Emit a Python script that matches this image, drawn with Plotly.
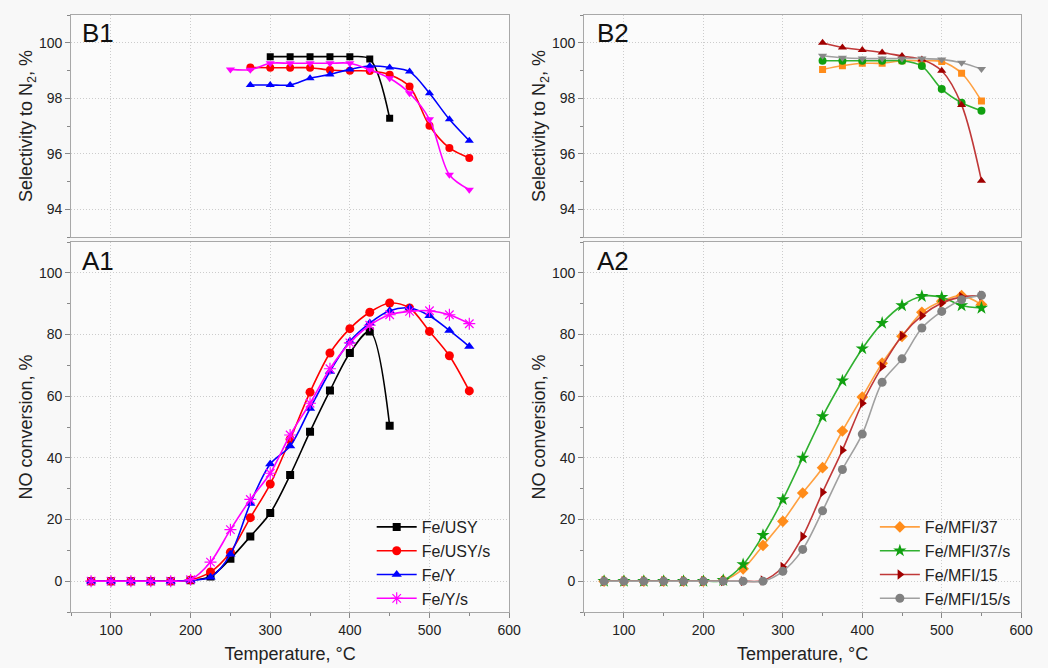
import plotly.graph_objects as go

# ---------------- data ----------------
T_A = [75, 100, 125, 150, 175, 200, 225, 250, 275, 300, 325, 350, 375, 400, 425, 450, 475, 500, 525, 550]

# A1: NO conversion, %
usy_T = T_A[:16]
usy_conv = [0, 0, 0, 0, 0, 0.3, 1.5, 7.3, 14.5, 22.1, 34.4, 48.5, 61.8, 74.0, 81.0, 50.4]
usys_conv = [0, 0, 0, 0, 0, 0.4, 3.0, 9.4, 20.6, 31.5, 46.0, 61.3, 74.0, 81.9, 87.2, 90.2, 88.6, 81.0, 73.1, 61.7]
y_conv = [0, 0, 0, 0, 0, 0.3, 1.3, 8.7, 25.2, 38.0, 43.8, 56.0, 68.0, 77.8, 83.7, 87.7, 88.6, 86.1, 81.3, 76.1]
ys_conv = [0, 0, 0, 0, 0, 0.5, 6.2, 16.7, 26.5, 35.0, 47.4, 57.7, 68.9, 77.3, 83.0, 86.4, 87.5, 87.7, 86.4, 83.5]

# A2: NO conversion, %
mfi37_conv = [0, 0, 0, 0, 0, 0, 0.3, 4.0, 11.6, 19.4, 28.6, 36.8, 48.7, 59.7, 70.7, 79.4, 87.2, 90.8, 92.6, 89.7]
mfi37s_conv = [0, 0, 0, 0, 0, 0, 0.3, 5.4, 14.9, 26.5, 40.0, 53.4, 65.0, 75.4, 83.7, 89.4, 92.4, 92.1, 89.4, 88.6]
mfi15_conv = [0, 0, 0, 0, 0, 0, 0, 0, 0.2, 4.6, 14.5, 28.8, 42.5, 57.7, 69.6, 79.6, 86.1, 90.2, 92.2, 92.6]
mfi15s_conv = [0, 0, 0, 0, 0, 0, 0, 0, 0, 3.2, 10.3, 22.8, 36.2, 47.7, 64.5, 72.1, 82.1, 87.5, 91.3, 92.7]

# B1: selectivity to N2, %
usy_sel_T = [300, 325, 350, 375, 400, 425, 450]
usy_sel = [99.5, 99.5, 99.5, 99.5, 99.5, 99.41, 97.28]
usys_sel_T = [275, 300, 325, 350, 375, 400, 425, 450, 475, 500, 525, 550]
usys_sel = [99.11, 99.1, 99.1, 99.1, 99.02, 98.99, 98.98, 98.85, 98.42, 97.01, 96.21, 95.85]
y_sel_T = [275, 300, 325, 350, 375, 400, 425, 450, 475, 500, 525, 550]
y_sel = [98.48, 98.48, 98.48, 98.72, 98.86, 99.04, 99.16, 99.11, 98.96, 98.18, 97.24, 96.47]
ys_sel_T = [250, 275, 300, 325, 350, 375, 400, 425, 450, 475, 500, 525, 550]
ys_sel = [99.04, 99.03, 99.26, 99.26, 99.26, 99.26, 99.26, 99.03, 98.72, 98.18, 97.24, 95.24, 94.7]

# B2: selectivity to N2, %
T_B2 = [350, 375, 400, 425, 450, 475, 500, 525, 550]
mfi37_sel = [99.04, 99.17, 99.26, 99.26, 99.35, 99.35, 99.32, 98.9, 97.9]
mfi37s_sel = [99.35, 99.35, 99.35, 99.35, 99.35, 99.16, 98.33, 97.84, 97.55]
mfi15_sel = [100.0, 99.83, 99.74, 99.65, 99.52, 99.4, 98.99, 97.76, 95.03]
mfi15s_sel = [99.53, 99.46, 99.43, 99.43, 99.43, 99.43, 99.4, 99.28, 99.05]

x_ticks = [100, 200, 300, 400, 500, 600]

# ---------------- styles ----------------
FONT = "Liberation Sans, Arial, sans-serif"
W, H = 1048, 668

fig = go.Figure()

def add(x, y, name, color, symbol, size, xa, ya, legend=None, show=False, lcolor=None, mline=0):
    fig.add_trace(go.Scatter(
        x=x, y=y, name=name, mode="lines+markers",
        line=dict(color=lcolor or color, width=1.6, shape="spline", smoothing=0.9),
        marker=dict(symbol=symbol, size=size, color=color,
                    line=dict(color=color, width=mline)),
        xaxis=xa, yaxis=ya, showlegend=show, legend=legend or "legend"))

# B1
add(usy_sel_T, usy_sel, "Fe/USY", "#000000", "square", 7, "x", "y")
add(usys_sel_T, usys_sel, "Fe/USY/s", "#ff0000", "circle", 8, "x", "y")
add(y_sel_T, y_sel, "Fe/Y", "#0000ff", "triangle-up", 8, "x", "y")
add(ys_sel_T, ys_sel, "Fe/Y/s", "#ff00ff", "triangle-down", 8, "x", "y")

# A1
add(usy_T, usy_conv, "Fe/USY", "#000000", "square", 8, "x2", "y2", "legend", True)
add(T_A, usys_conv, "Fe/USY/s", "#ff0000", "circle", 9, "x2", "y2", "legend", True)
add(T_A, y_conv, "Fe/Y", "#0000ff", "triangle-up", 9, "x2", "y2", "legend", True)
add(T_A, ys_conv, "Fe/Y/s", "#ff00ff", "asterisk-open", 10, "x2", "y2", "legend", True, mline=1.2)

# B2
add(T_B2, mfi37_sel, "Fe/MFI/37", "#ff8c1a", "square", 7, "x3", "y3", lcolor="#ffa040")
add(T_B2, mfi37s_sel, "Fe/MFI/37/s", "#10a010", "circle", 8, "x3", "y3", lcolor="#30b030")
add(T_B2, mfi15_sel, "Fe/MFI/15", "#a00000", "triangle-up", 8, "x3", "y3", lcolor="#c03838")
add(T_B2, mfi15s_sel, "Fe/MFI/15/s", "#888888", "triangle-down", 8, "x3", "y3", lcolor="#a0a0a0")

# A2
add(T_A, mfi37_conv, "Fe/MFI/37", "#ff8c1a", "diamond", 9, "x4", "y4", "legend2", True, lcolor="#ffa040")
add(T_A, mfi37s_conv, "Fe/MFI/37/s", "#10a010", "star", 10, "x4", "y4", "legend2", True, lcolor="#30b030")
add(T_A, mfi15_conv, "Fe/MFI/15", "#a00000", "triangle-right", 9, "x4", "y4", "legend2", True, lcolor="#c03838")
add(T_A, mfi15s_conv, "Fe/MFI/15/s", "#808080", "circle", 9, "x4", "y4", "legend2", True, lcolor="#a0a0a0")

# ---------------- axes ----------------
xl = [72 / W, 515 / W]
xr = [591 / W, 1033 / W]
yb = [1 - 237 / H, 1 - 15 / H]
ya = [1 - 612 / H, 1 - 242 / H]

grid = dict(showgrid=True, gridcolor="#cccccc", griddash="1px,2px", gridwidth=1,
            showline=True, linecolor="#a8a8a8", linewidth=1.2, mirror=True, zeroline=False,
            tickfont=dict(family=FONT, size=14, color="#222222"))

def xaxis(domain, anchor, bottom):
    d = dict(grid, domain=domain, anchor=anchor, range=[50, 600], tickvals=x_ticks)
    if bottom:
        d.update(ticks="outside", ticklen=5, tickcolor="#888888", showticklabels=True,
                 minor=dict(dtick=50, tick0=0, ticks="outside", ticklen=3, tickcolor="#888888", showgrid=False),
                 title=dict(text="Temperature, °C", font=dict(family=FONT, size=18, color="#222222"), standoff=10))
    else:
        d.update(ticks="", showticklabels=False)
    return d

def yaxis(domain, anchor, rng, dtick, title, standoff):
    return dict(grid, domain=domain, anchor=anchor, range=rng, dtick=dtick, tick0=0,
                ticks="outside", ticklen=5, tickcolor="#888888",
                minor=dict(dtick=dtick / 2, tick0=0, ticks="outside", ticklen=3, tickcolor="#888888", showgrid=False),
                title=dict(text=title, font=dict(family=FONT, size=18, color="#222222"), standoff=standoff))

sel_title = "Selectivity to N<sub>2</sub>, %"
conv_title = "NO conversion, %"

fig.update_layout(
    width=W, height=H, autosize=False,
    margin=dict(l=0, r=0, t=0, b=0),
    paper_bgcolor="#f8f8f8", plot_bgcolor="#fbfbfb",
    font=dict(family=FONT, color="#222222"),
    xaxis=xaxis(xl, "y", False),
    yaxis=yaxis(yb, "x", [93, 101], 2, sel_title, 1),
    xaxis2=xaxis(xl, "y2", True),
    yaxis2=yaxis(ya, "x2", [-10, 110], 20, conv_title, 1),
    xaxis3=xaxis(xr, "y3", False),
    yaxis3=yaxis(yb, "x3", [93, 101], 2, sel_title, 1),
    xaxis4=xaxis(xr, "y4", True),
    yaxis4=yaxis(ya, "x4", [-10, 110], 20, conv_title, 1),
    legend=dict(x=376 / W, y=1 - 510 / H, xanchor="left", yanchor="top",
                bgcolor="rgba(0,0,0,0)", font=dict(family=FONT, size=16, color="#222222"),
                tracegroupgap=0, itemwidth=40),
    legend2=dict(x=885 / W, y=1 - 510 / H, xanchor="left", yanchor="top",
                 bgcolor="rgba(0,0,0,0)", font=dict(family=FONT, size=16, color="#222222"),
                 tracegroupgap=0, itemwidth=40),
)

for txt, xp, yp in [("B1", 81, 16), ("A1", 81, 244), ("B2", 602, 16), ("A2", 602, 244)]:
    fig.add_annotation(text=txt, x=xp / W, y=1 - yp / H, xref="paper", yref="paper",
                       xanchor="left", yanchor="top", showarrow=False,
                       font=dict(family=FONT, size=26, color="#111111"))

fig.write_html("out.html")
